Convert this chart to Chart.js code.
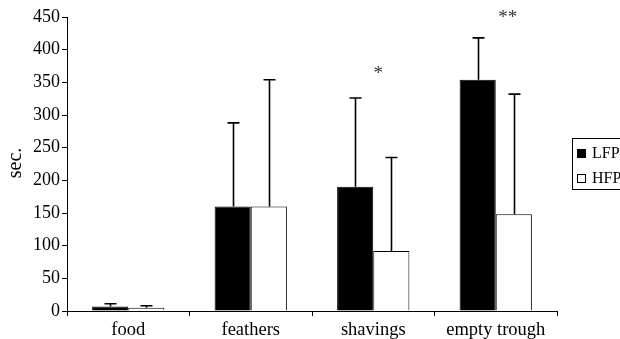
<!DOCTYPE html>
<html><head><meta charset="utf-8">
<script src="https://cdn.jsdelivr.net/npm/chart.js@4/dist/chart.umd.min.js"></script>
<style>html,body{margin:0;padding:0;background:#fff}#wrap{width:620px;height:339px}</style>
</head><body><div id="wrap"><canvas id="c" width="620" height="339"></canvas></div>
<script>
const categories = ['food', 'feathers', 'shavings', 'empty trough'];
const lfpMeans = [7, 160, 190, 354];
const lfpErrTop = [11, 288, 326, 418];
const hfpMeans = [5, 160, 92, 148];
const hfpErrTop = [8, 354, 235, 332];
const sigLabels = ['', '', '*', '**'];
const yTicks = [0, 50, 100, 150, 200, 250, 300, 350, 400, 450];

const FONT = '"Liberation Serif", "DejaVu Serif", serif';

const extras = {
  id: 'extras',
  afterDatasetsDraw(chart) {
    const ctx = chart.ctx;
    const y = chart.scales.y, x = chart.scales.x;
    const errs = [lfpErrTop, hfpErrTop];
    ctx.save();
    ctx.strokeStyle = '#000';
    ctx.lineWidth = 1.6;
    errs.forEach((arr, di) => {
      const meta = chart.getDatasetMeta(di);
      meta.data.forEach((bar, i) => {
        const cx = Math.round(bar.x) + 0.5;
        const top = y.getPixelForValue(arr[i]);
        const base = y.getPixelForValue(chart.data.datasets[di].data[i]);
        ctx.beginPath();
        ctx.moveTo(cx, base);
        ctx.lineTo(cx, top);
        ctx.moveTo(cx - 6, top);
        ctx.lineTo(cx + 6, top);
        ctx.stroke();
      });
    });
    // significance markers
    ctx.fillStyle = '#333';
    ctx.font = '19px ' + FONT;
    ctx.textAlign = 'center';
    ctx.textBaseline = 'middle';
    sigLabels.forEach((s, i) => {
      if (!s) return;
      const cx = x.getPixelForValue(i);
      const top = Math.max(lfpErrTop[i], hfpErrTop[i]);
      const py = y.getPixelForValue(top) - (s.length > 1 ? 20 : 24);
      ctx.fillText(s, cx + (s.length > 1 ? 12 : 5), py);
    });
    // y title
    ctx.fillStyle = '#000';
    ctx.font = '20px ' + FONT;
    ctx.save();
    ctx.translate(16, 163);
    ctx.rotate(-Math.PI / 2);
    ctx.fillText('sec.', 0, 0);
    ctx.restore();
    // legend
    const lx = 572, ly = 138, lw = 60, lh = 51;
    ctx.lineWidth = 1;
    ctx.strokeStyle = '#000';
    ctx.strokeRect(lx + 0.5, ly + 0.5, lw, lh);
    const items = [{t: 'LFP', fill: '#000'}, {t: 'HFP', fill: '#fff'}];
    ctx.font = '16px ' + FONT;
    ctx.textAlign = 'left';
    ctx.textBaseline = 'alphabetic';
    items.forEach((it, k) => {
      const my = ly + 11 + k * 25;
      ctx.fillStyle = it.fill;
      ctx.fillRect(lx + 5.5, my + 0.5, 8, 8);
      ctx.strokeRect(lx + 5.5, my + 0.5, 8, 8);
      ctx.fillStyle = '#000';
      ctx.fillText(it.t, lx + 20, my + 8.5);
    });
    ctx.restore();
  }
};

new Chart(document.getElementById('c'), {
  type: 'bar',
  data: {
    labels: categories,
    datasets: [
      {label: 'LFP', data: lfpMeans, backgroundColor: '#000', borderColor: '#000', borderWidth: 1},
      {label: 'HFP', data: hfpMeans, backgroundColor: '#fff', borderColor: '#000', borderWidth: 1}
    ]
  },
  options: {
    responsive: false,
    animation: false,
    devicePixelRatio: 1,
    layout: {padding: {left: 0, right: 63, top: 17, bottom: 0}},
    categoryPercentage: 0.59,
    barPercentage: 1.0,
    plugins: {legend: {display: false}, tooltip: {enabled: false}},
    scales: {
      x: {
        grid: {display: true, drawOnChartArea: false, drawTicks: true, tickLength: 5, color: '#000', offset: true},
        border: {display: true, color: '#000', width: 1},
        ticks: {color: '#000', font: {family: FONT, size: 18.5}, padding: 3},
        afterFit(s) { s.height = 28; }
      },
      y: {
        min: 0, max: 450,
        afterBuildTicks(s) { s.ticks = yTicks.map(v => ({value: v})); },
        grid: {display: true, drawOnChartArea: false, drawTicks: true, tickLength: 5, color: '#000'},
        border: {display: true, color: '#000', width: 1},
        ticks: {color: '#000', font: {family: FONT, size: 18}, padding: 2},
        afterFit(s) { s.width = 67; }
      }
    }
  },
  plugins: [extras]
});
</script>
</body></html>
